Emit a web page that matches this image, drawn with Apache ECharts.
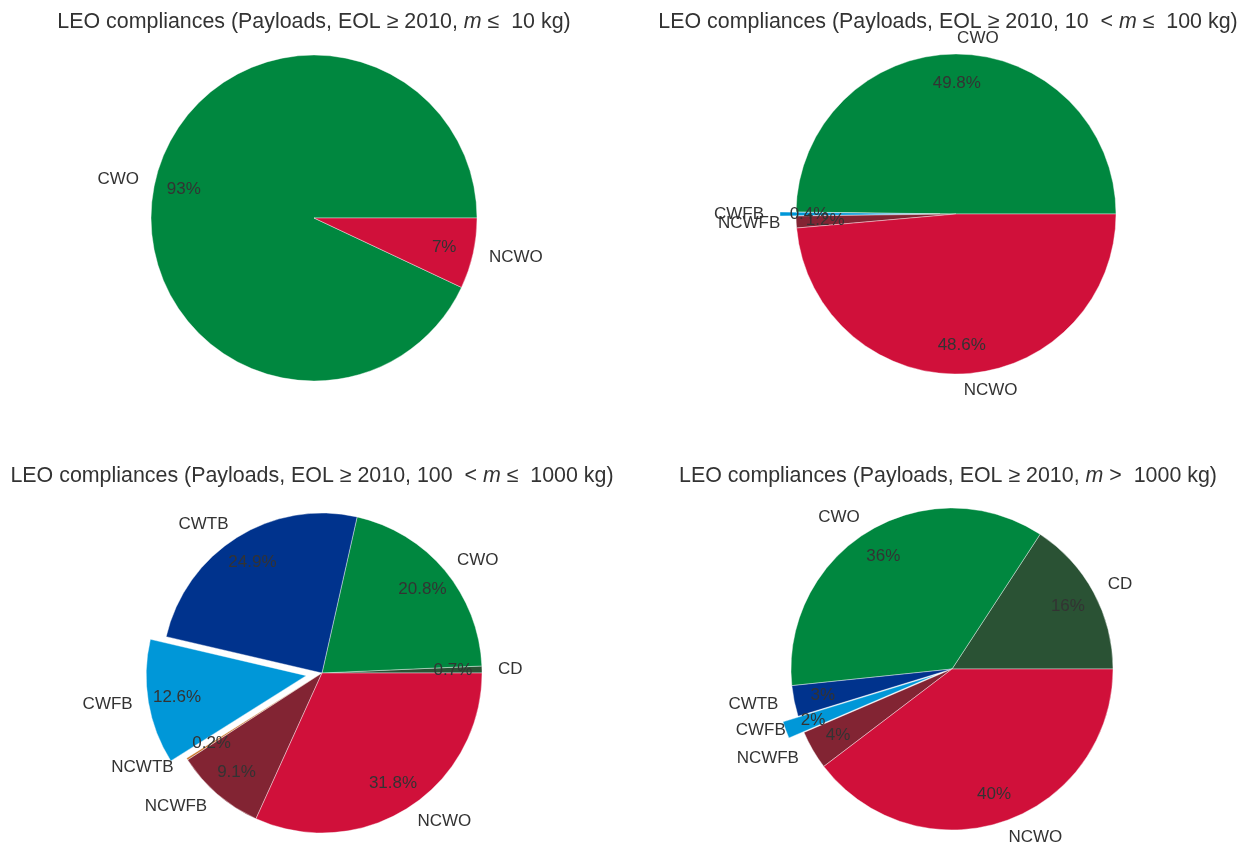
<!DOCTYPE html>
<html><head><meta charset="utf-8">
<script src="https://cdn.jsdelivr.net/npm/echarts@6/dist/echarts.min.js"></script>
<style>html,body{margin:0;padding:0;background:#fff}#c{width:1252px;height:847px}</style>
</head><body><div id="c"></div>
<script>
// ---- data ----
const labels1 = ['CWO', 'NCWO'];
const values1 = [93, 7];
const labels2 = ['CWO', 'CWFB', 'NCWFB', 'NCWO'];
const values2 = [49.8, 0.4, 1.2, 48.6];
const labels3 = ['CD', 'CWO', 'CWTB', 'CWFB', 'NCWTB', 'NCWFB', 'NCWO'];
const values3 = [0.7, 20.8, 24.9, 12.6, 0.2, 9.1, 31.8];
const labels4 = ['CD', 'CWO', 'CWTB', 'CWFB', 'NCWFB', 'NCWO'];
const values4 = [15.8, 35.9, 3.1, 1.7, 3.9, 39.7];
const exploded = ['CWFB'];
const titles = [
  ['LEO compliances (Payloads, EOL ≥ 2010, ', 'm', ' ≤  10 kg)'],
  ['LEO compliances (Payloads, EOL ≥ 2010, 10  < ', 'm', ' ≤  100 kg)'],
  ['LEO compliances (Payloads, EOL ≥ 2010, 100  < ', 'm', ' ≤  1000 kg)'],
  ['LEO compliances (Payloads, EOL ≥ 2010, ', 'm', ' >  1000 kg)']
];

// ---- style ----
const colorMap = {
  CWO: '#00873f', NCWO: '#d0103a', CWFB: '#0097d8', CWTB: '#00338d',
  NCWFB: '#822433', CD: '#2a5234', NCWTB: '#c8742a'
};
const FONT = 'Liberation Sans, Arial, sans-serif';
const TXT = '#333333';
const CLEAR = 'rgba(0,0,0,0)';

const panels = [
  {labels: labels1, values: values1, cx: 314, cy: 218, r: 163, dec: 0, tx: 309, ty: 7, labelShift: true},
  {labels: labels2, values: values2, cx: 956, cy: 214, r: 160, dec: 1, tx: 943, ty: 7, labelShift: true},
  {labels: labels3, values: values3, cx: 322, cy: 673, r: 160, dec: 1, tx: 307, ty: 461, labelShift: true},
  {labels: labels4, values: values4, cx: 952, cy: 669, r: 161, dec: 0, tx: 943, ty: 461, labelShift: false}
];

const series = [];
const title = [];
function base(p) {
  return {
    type: 'pie', center: [p.cx, p.cy],
    startAngle: 0, clockwise: false, avoidLabelOverlap: false,
    selectedMode: 'multiple', selectedOffset: 0.1 * p.r,
    animation: false, silent: true,
    labelLayout: {hideOverlap: false},
    emphasis: {disabled: true}
  };
}
panels.forEach((p, i) => {
  const t = titles[i];
  title.push({
    text: '{a|' + t[0] + '}{i|' + t[1] + '}{a|' + t[2] + '}',
    left: p.tx, top: p.ty, textAlign: 'center',
    textStyle: {
      rich: {
        a: {fontFamily: FONT, fontSize: 21.4, fontWeight: 'normal', color: TXT},
        i: {fontFamily: FONT, fontSize: 21.4, fontWeight: 'normal', color: TXT, fontStyle: 'italic'}
      }
    }
  });
  // wedges
  series.push(Object.assign(base(p), {
    radius: [0, p.r],
    itemStyle: {borderColor: '#ffffff', borderWidth: 0.4},
    label: {show: false},
    labelLine: {show: false},
    data: p.labels.map((name, k) => ({
      name: name, value: p.values[k],
      selected: exploded.indexOf(name) >= 0,
      itemStyle: {color: colorMap[name]}
    }))
  }));
  // category labels at 1.1 r
  series.push(Object.assign(base(p), {
    radius: [0, p.r],
    itemStyle: {color: CLEAR, borderWidth: 0},
    label: {show: true, position: 'outside', color: TXT, fontSize: 17, fontFamily: FONT,
      formatter: '{b}', distanceToLabelLine: 0},
    labelLine: {show: false, length: 0.1 * p.r, length2: 0},
    data: p.labels.map((name, k) => ({
      name: name, value: p.values[k],
      selected: p.labelShift && exploded.indexOf(name) >= 0,
      itemStyle: {color: CLEAR}
    }))
  }));
  // percentage labels at 0.8 r
  series.push(Object.assign(base(p), {
    radius: [0.6 * p.r, p.r],
    itemStyle: {color: CLEAR, borderWidth: 0},
    label: {show: true, position: 'inside', color: TXT, fontSize: 17, fontFamily: FONT,
      formatter: (d) => d.value.toFixed(p.dec) + '%'},
    labelLine: {show: false},
    data: p.labels.map((name, k) => ({
      name: name, value: p.values[k],
      selected: exploded.indexOf(name) >= 0,
      itemStyle: {color: CLEAR}
    }))
  }));
});

const chart = echarts.init(document.getElementById('c'), null, {renderer: 'canvas'});
chart.setOption({backgroundColor: '#ffffff', animation: false, title: title, series: series});
</script>
</body></html>
